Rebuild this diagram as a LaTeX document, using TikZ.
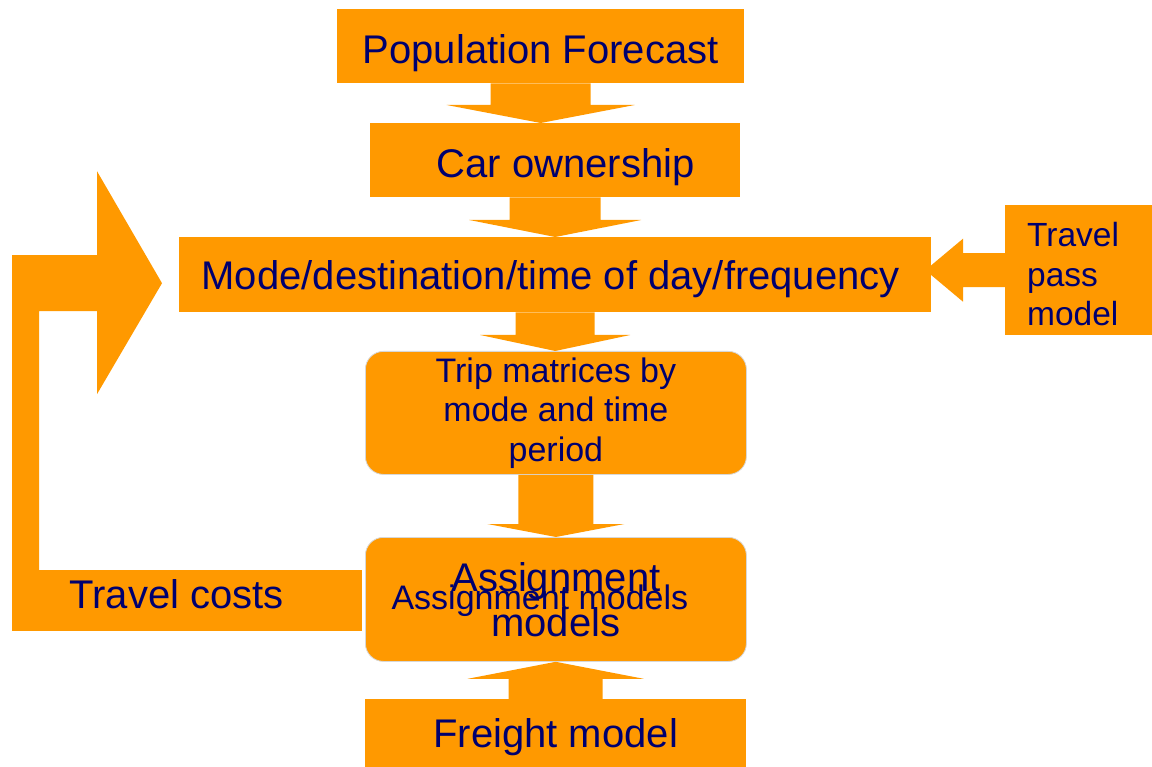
\documentclass[tikz,border=0pt]{standalone}
\usepackage{fontspec}
\setmainfont{Liberation Sans}
\usetikzlibrary{calc}
\definecolor{amber}{RGB}{255,153,0}
\definecolor{inknavy}{RGB}{0,0,110}
\definecolor{edgegray}{RGB}{215,215,215}
% block arrow pointing down: from, to, shaft half width, head half width, head length
\newcommand{\downflow}[5]{%
  \fill[blockarrow] let \p1=(#1.south), \p2=(#2.north) in
    (\x1-#3,\y1) -- (\x1+#3,\y1) -- (\x1+#3,\y2+#5) -- (\x1+#4,\y2+#5)
    -- (\x1,\y2) -- (\x1-#4,\y2+#5) -- (\x1-#3,\y2+#5) -- cycle;}

\begin{document}
\begin{tikzpicture}[
  x=1pt, y=-1pt,
  box/.style={
    fill=amber,
    text=inknavy,
    inner sep=0pt,
    anchor=north west,
    font=\fontsize{40}{45}\selectfont
  },
  roundbox/.style={box, rounded corners=18pt, draw=edgegray, line width=0.8pt},
  blockarrow/.style={fill=amber}
]
\useasboundingbox (0,0) rectangle (1152,767);

\node[box, minimum width=407, minimum height=74, text height=34pt, text depth=0pt] (pop) at (337,9) {Population Forecast};
\node[box, minimum width=370, minimum height=74, text height=34pt, text depth=0pt] (car) at (370,123) {\kern21pt Car ownership};
\node[box, minimum width=752, minimum height=75, text height=29pt, text depth=0pt] (mode) at (179,237) {Mode/destination/time of day/frequency\kern9pt};
\node[box, minimum width=147, minimum height=130, text width=103pt, align=left, font=\fontsize{33.5}{39.5}\selectfont] (pass) at (1005,205) {\rule{0pt}{32pt}Travel\\pass\\model};
\node[roundbox, minimum width=381, minimum height=123, align=center, font=\fontsize{34}{39.5}\selectfont] (trip) at (365,351) {Trip matrices by\\mode and time\\period};
\node[roundbox, minimum width=381, minimum height=124, align=center] (assign) at (365,537) {Assignment\\models};
\node[anchor=base, text=inknavy, font=\fontsize{34}{40}\selectfont] (assignlbl) at ([xshift=-16pt,yshift=-10pt]assign.center) {Assignment models};
\node[box, minimum width=381, minimum height=68, text height=28pt, text depth=0pt] (freight) at (365,699) {Freight model};
\node[box, minimum width=350, minimum height=61, text height=15pt, text depth=0pt] (costs) at (12,570) {Travel costs\kern21pt};

\downflow{pop}{car}{50}{94}{18}
\downflow{car}{mode}{45.5}{86}{17}
\downflow{mode}{trip}{39.5}{75}{16}
\downflow{trip}{assign}{37.5}{68.5}{13}

% freight feeds assignment from below
\fill[blockarrow] let \p1=(freight.north), \p2=(assign.south) in
  (\x1-47,\y1) -- (\x1-47,\y2-17) -- (\x1-88,\y2-17) -- (\x1,\y2)
  -- (\x1+88,\y2-17) -- (\x1+47,\y2-17) -- (\x1+47,\y1) -- cycle;

% travel pass into the mode choice box
\fill[blockarrow] let \p1=(pass.west), \p2=(mode.east) in
  (\x1,\y1+17) -- (\x1-42,\y1+17) -- (\x1-42,\y1+31.5) -- (\x2-6,\y1)
  -- (\x1-42,\y1-31.5) -- (\x1-42,\y1-17) -- (\x1,\y1-17) -- cycle;

% feedback loop of travel costs
\fill[blockarrow] let \p1=(costs.north west), \p2=(mode.west) in
  (\x1,\y1) -- (\x1,\y2+19.5) -- (\x2-82,\y2+19.5) -- (\x2-82,\y2+103.5)
  -- (\x2-17,\y2-8.5) -- (\x2-82,\y2-119.5) -- (\x2-82,\y2-36.5)
  -- (\x1+27,\y2-36.5) -- (\x1+27,\y1) -- cycle;
\end{tikzpicture}
\end{document}
